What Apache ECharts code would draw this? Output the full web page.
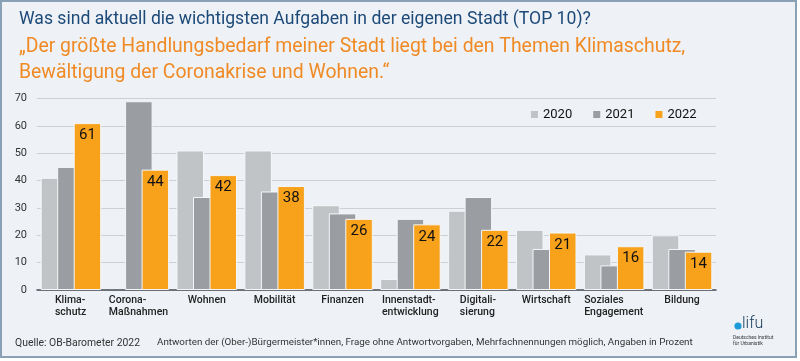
<!DOCTYPE html>
<html><head><meta charset="utf-8">
<script src="https://cdn.jsdelivr.net/npm/echarts@6/dist/echarts.min.js"></script>
<style>html,body{margin:0;padding:0;background:#fff}#c{width:800px;height:361px}</style>
</head><body><div id="c"></div>
<script>
const categories = ['Klima-\nschutz','Corona-\nMaßnahmen','Wohnen','Mobilität','Finanzen','Innenstadt-\nentwicklung','Digitali-\nsierung','Wirtschaft','Soziales\nEngagement','Bildung'];
const years = ['2020','2021','2022'];
const values2020 = [41, null, 51, 51, 31, 4, 29, 22, 13, 20];
const values2021 = [45, 69, 34, 36, 28, 26, 34, 15, 9, 15];
const values2022 = [61, 44, 42, 38, 26, 24, 22, 21, 16, 14];
const yTicks = {min: 0, max: 70, interval: 10};

const FONT = 'Roboto, "Liberation Sans", sans-serif';
const catFont = '500 10.5px Roboto';
const ctx = document.createElement('canvas').getContext('2d');
ctx.font = catFont;
const rich = {};
const catLabel = categories.map((c, i) => {
  const lines = c.split('\n');
  if (lines.length === 1) return c;
  const w = Math.ceil(Math.max(...lines.map(l => ctx.measureText(l).width)));
  rich['r' + i] = {width: w, align: 'left', fontSize: 10.5, fontWeight: 500, color: '#222', fontFamily: FONT, lineHeight: 11.5};
  return lines.map(l => '{r' + i + '|' + l + '}').join('\n');
});

const chart = echarts.init(document.getElementById('c'), null, {renderer: 'canvas'});
const barCommon = {type: 'bar', barWidth: 27.5, barGap: '-40%', itemStyle: {borderColor: '#f4f6f8', borderWidth: 1}};
chart.setOption({
  backgroundColor: '#ffffff',
  animation: false,
  textStyle: {fontFamily: FONT},
  title: [
    {text: 'Was sind aktuell die wichtigsten Aufgaben in der eigenen Stadt (TOP 10)?', left: 14, top: 6,
     textStyle: {fontSize: 17.6, fontWeight: 'normal', color: '#1d4a78', fontFamily: FONT}},
    {text: '„Der größte Handlungsbedarf meiner Stadt liegt bei den Themen Klimaschutz,', left: 14, top: 33,
     textStyle: {fontSize: 19.4, fontWeight: 'normal', color: '#f08a24', fontFamily: FONT}},
    {text: 'Bewältigung der Coronakrise und Wohnen.“', left: 14, top: 59,
     textStyle: {fontSize: 19.4, fontWeight: 'normal', color: '#f08a24', fontFamily: FONT}}
  ],
  legend: {
    data: years, left: 526, top: 103, icon: 'rect', itemWidth: 7, itemHeight: 7, itemGap: 21,
    textStyle: {fontSize: 13, color: '#111', fontFamily: FONT},
    itemStyle: {borderWidth: 0}
  },
  grid: {left: 37, right: 84, top: 98.5, bottom: 71, containLabel: false},
  xAxis: {
    type: 'category', data: catLabel,
    axisLine: {lineStyle: {color: '#4a4f55', width: 1.5}},
    axisTick: {show: false},
    axisLabel: {interval: 0, margin: 5, fontSize: 10.5, fontWeight: 500, color: '#222', lineHeight: 11.5, rich: rich}
  },
  yAxis: {
    type: 'value', min: yTicks.min, max: yTicks.max, interval: yTicks.interval,
    axisLine: {show: false}, axisTick: {show: false},
    axisLabel: {fontSize: 11, color: '#333', margin: 10},
    splitLine: {lineStyle: {color: '#cdd1d6', width: 1.2}}
  },
  series: [
    Object.assign({}, barCommon, {name: '2020', data: values2020, itemStyle: Object.assign({}, barCommon.itemStyle, {color: '#c1c4c7'})}),
    Object.assign({}, barCommon, {name: '2021', data: values2021, itemStyle: Object.assign({}, barCommon.itemStyle, {color: '#9a9da1'})}),
    Object.assign({}, barCommon, {name: '2022', data: values2022, itemStyle: Object.assign({}, barCommon.itemStyle, {color: '#f8a11b'}),
      label: {show: true, position: 'insideTop', distance: 5, fontSize: 15, color: '#111', fontFamily: FONT}})
  ],
  graphic: [
    {type: 'rect', z: -10, silent: true, shape: {x: 1, y: 1, width: 795, height: 356},
     style: {fill: '#eef2f7', stroke: '#8aa0b4', lineWidth: 2}},
    {type: 'text', left: 15, top: 338, style: {text: 'Quelle: OB-Barometer 2022', fontSize: 10.4, fill: '#333', fontFamily: FONT}},
    {type: 'text', left: 157, top: 338, style: {text: 'Antworten der (Ober-)Bürgermeister*innen, Frage ohne Antwortvorgaben, Mehrfachnennungen möglich, Angaben in Prozent', fontSize: 9.8, fill: '#333', fontFamily: FONT}},
    {type: 'circle', shape: {cx: 738, cy: 326, r: 3.6}, style: {fill: '#1e9ad8'}},
    {type: 'text', left: 742, top: 316, style: {text: 'lifu', fontSize: 16, fontWeight: 300, fill: '#1d3f60', fontFamily: FONT}},
    {type: 'text', left: 733, top: 335, style: {text: 'Deutsches Institut\nfür Urbanistik', fontSize: 5, lineHeight: 5.5, fill: '#333', fontFamily: FONT}}
  ]
});
</script></body></html>
